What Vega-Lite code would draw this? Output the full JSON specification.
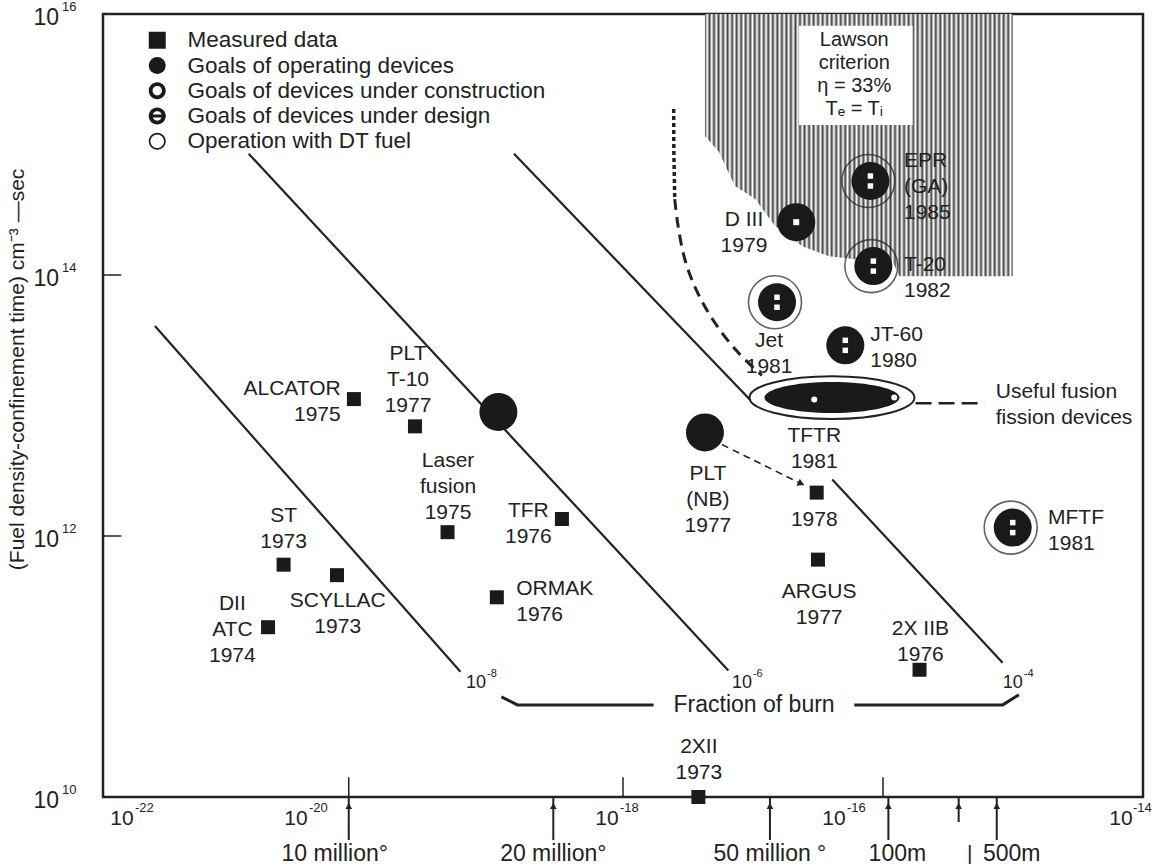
{
"$schema": "https://vega.github.io/schema/vega-lite/v6.json",
"width": 1040, "height": 783,
"autosize": {"type": "none"},
"padding": {"left": 103, "top": 14, "right": 13, "bottom": 71},
"background": "white",
"view": {"stroke": "#222", "strokeWidth": 2.5},
"config": {"text": {"font": "Liberation Sans", "color": "#222"}},
"datasets": {
"measured": [
 {"device":"ALCATOR","year":1975,"x":8.51e-21,"y":1.12e13},
 {"device":"PLT/T-10","year":1977,"x":2.51e-20,"y":6.92e12},
 {"device":"Laser fusion","year":1975,"x":4.47e-20,"y":1.07e12},
 {"device":"TFR","year":1976,"x":3.39e-19,"y":1.35e12},
 {"device":"ORMAK","year":1976,"x":1.07e-19,"y":3.39e11},
 {"device":"ST","year":1973,"x":2.45e-21,"y":6.03e11},
 {"device":"SCYLLAC","year":1973,"x":6.31e-21,"y":5.01e11},
 {"device":"DII ATC","year":1974,"x":1.86e-21,"y":2.0e11},
 {"device":"PLT (NB)","year":1978,"x":3.09e-17,"y":2.15e12},
 {"device":"ARGUS","year":1977,"x":3.16e-17,"y":6.59e11},
 {"device":"2X IIB","year":1976,"x":1.91e-16,"y":9.44e10},
 {"device":"2XII","year":1973,"x":3.80e-18,"y":1.0e10}
],
"goals": [
 {"device":"PLT","kind":"operating","x":1.10e-19,"y":8.91e12,"dt":false},
 {"device":"PLT (NB)","kind":"operating","x":4.27e-18,"y":6.22e12,"dt":false},
 {"device":"D III","kind":"operating","x":2.15e-17,"y":2.54e14,"dt":false},
 {"device":"EPR (GA)","kind":"design","x":8.0e-17,"y":5.25e14,"dt":true},
 {"device":"T-20","kind":"design","x":8.43e-17,"y":1.17e14,"dt":true},
 {"device":"Jet","kind":"design","x":1.53e-17,"y":6.18e13,"dt":true},
 {"device":"JT-60","kind":"design","x":5.13e-17,"y":2.89e13,"dt":false},
 {"device":"MFTF","kind":"design","x":9.95e-16,"y":1.16e12,"dt":true}
],
"lawson": [
 {"x":4.27e-18,"y":1.16e15},
 {"x":5.47e-18,"y":8.75e14},
 {"x":7.26e-18,"y":4.80e14},
 {"x":1.04e-17,"y":3.82e14},
 {"x":1.48e-17,"y":2.37e14},
 {"x":2.39e-17,"y":1.66e14},
 {"x":3.85e-17,"y":1.39e14},
 {"x":6.12e-17,"y":1.32e14},
 {"x":1.18e-16,"y":1.28e14},
 {"x":1.34e-16,"y":9.8e13},
 {"x":9.95e-16,"y":9.8e13}
],
"lawsonBox": [{"x":2.26e-17,"x2":1.69e-16,"y":8.11e15,"y2":1.41e15}],
"lawsonText": [{"t":["Lawson","criterion","η = 33%","Tₑ = Tᵢ"],"x":6.01e-17,"y":7.5e15}],
"burnLines": [
 {"x":2.51e-22,"y":4.07e13,"x2":5.62e-20,"y2":9.12e10},
 {"x":1.32e-21,"y":8.51e14,"x2":6.46e-18,"y2":9.33e10},
 {"x":1.45e-19,"y":8.51e14,"x2":9.82e-18,"y2":1.07e13},
 {"x":4.07e-17,"y":2.71e12,"x2":8.32e-16,"y2":1.07e11}
],
"curveDotted": [
 {"i":0,"x":2.455e-18,"y":1.87e15},
 {"i":1,"x":2.46e-18,"y":9.23e14},
 {"i":2,"x":2.50e-18,"y":3.82e14}
],
"curveDashed": [
 {"i":0,"x":2.50e-18,"y":3.82e14},
 {"i":1,"x":2.64e-18,"y":2.45e14},
 {"i":2,"x":2.99e-18,"y":1.32e14},
 {"i":3,"x":3.70e-18,"y":7.51e13},
 {"i":4,"x":5.00e-18,"y":4.42e13},
 {"i":5,"x":7.54e-18,"y":2.60e13},
 {"i":6,"x":1.17e-17,"y":1.70e13}
],
"bracket": [
 {"seg":"L","i":0,"x":1.16e-19,"y":5.85e10},
 {"seg":"L","i":1,"x":1.54e-19,"y":5.08e10},
 {"seg":"L","i":2,"x":1.72e-18,"y":5.08e10},
 {"seg":"R","i":0,"x":6.01e-17,"y":5.08e10},
 {"seg":"R","i":1,"x":8.34e-16,"y":5.08e10},
 {"seg":"R","i":2,"x":1.11e-15,"y":6.07e10}
],
"bracketText": [{"t":"Fraction of burn","x":1.02e-17,"y":5.08e10}],
"burnLabels": [
 {"x":7.41e-20,"y":7.5e10,"e":"-8"},
 {"x":8.22e-18,"y":7.5e10,"e":"-6"},
 {"x":9.95e-16,"y":7.5e10,"e":"-4"}
],
"tftr": [{"device":"TFTR","year":1981,"x":4.05e-17,"y":1.15e13}],
"tftrDots": [{"x":2.96e-17,"y":1.11e13},{"x":1.22e-16,"y":1.15e13}],
"nbArrow": [{"x":5.77e-18,"y":5.02e12,"x2":2.61e-17,"y2":2.39e12}],
"nbHead": [{"x":2.61e-17,"y":2.39e12}],
"usefulLine": [{"x":1.78e-16,"y":1.04e13,"x2":6.05e-16,"y2":1.04e13}],
"labelsC": [
 {"t":["PLT","T-10","1977"],"x":2.22e-20,"y":3.02e13},
 {"t":["Laser","fusion","1975"],"x":4.51e-20,"y":4.56e12},
 {"t":["ST","1973"],"x":2.45e-21,"y":1.73e12},
 {"t":["DII","ATC","1974"],"x":9.89e-22,"y":3.65e11},
 {"t":["SCYLLAC","1973"],"x":6.39e-21,"y":3.84e11},
 {"t":["TFR","1976"],"x":1.87e-19,"y":1.89e12},
 {"t":["PLT","(NB)","1977"],"x":4.50e-18,"y":3.63e12},
 {"t":["1978"],"x":2.96e-17,"y":1.61e12},
 {"t":["ARGUS","1977"],"x":3.23e-17,"y":4.51e11},
 {"t":["2X IIB","1976"],"x":1.94e-16,"y":2.34e11},
 {"t":["TFTR","1981"],"x":2.96e-17,"y":7.10e12},
 {"t":["Jet","1981"],"x":1.33e-17,"y":3.80e13},
 {"t":["2XII","1973"],"x":3.83e-18,"y":2.91e10},
 {"t":["D III","1979"],"x":8.52e-18,"y":3.23e14}
],
"labelsL": [
 {"t":["ORMAK","1976"],"x":1.51e-19,"y":4.75e11},
 {"t":["EPR","(GA)","1985"],"x":1.45e-16,"y":9.0e14},
 {"t":["T-20","1982"],"x":1.45e-16,"y":1.46e14},
 {"t":["JT-60","1980"],"x":7.99e-17,"y":4.23e13},
 {"t":["MFTF","1981"],"x":1.86e-15,"y":1.67e12},
 {"t":["Useful fusion","fission devices"],"x":7.37e-16,"y":1.55e13}
],
"labelsR": [{"t":["ALCATOR","1975"],"x":6.74e-21,"y":1.63e13}],
"yLabels": [{"y":1e10,"e":"10"},{"y":1e12,"e":"12"},{"y":1e14,"e":"14"},{"y":1e16,"e":"16"}],
"xLabels": [{"x":1e-22,"e":"-22"},{"x":1e-20,"e":"-20"},{"x":1e-18,"e":"-18"},{"x":1e-16,"e":"-16"},{"x":1e-14,"e":"-14"}],
"ticksX": [{"x":7.77e-21},{"x":1e-18},{"x":1e-16}],
"ticksY": [{"y":1e12},{"y":1e14}],
"temps": [
 {"x":7.77e-21,"t":"10 million°"},
 {"x":2.91e-19,"t":"20 million°"},
 {"x":1.35e-17,"t":"50 million °"},
 {"x":1.10e-16,"t":"100m"},
 {"x":7.50e-16,"t":"500m"}
],
"tempShort": [{"x":3.82e-16,"t":"|"}],
"yTitle": [{"t":"(Fuel density-confinement time) cm⁻³ —sec"}],
"kinds": [
 {"kind":"Measured data"},
 {"kind":"Goals of operating devices"},
 {"kind":"Goals of devices under construction"},
 {"kind":"Goals of devices under design"},
 {"kind":"Operation with DT fuel"}
]
},
"layer": [
{
"encoding": {
 "x": {"field":"x","type":"quantitative","scale":{"type":"log","domain":[1e-22,1e-14],"nice":false},"axis":null},
 "y": {"field":"y","type":"quantitative","scale":{"type":"log","domain":[1e10,1e16],"nice":false},"axis":null}
},
"layer": [
 {"data":{"name":"lawson"},
  "mark":{"type":"area","stroke":null,"fill":{"gradient":"linear","x1":0,"x2":1,"y1":0,"y2":0,"stops":[
{"offset":0,"color":"#444"},{"offset":0.0074,"color":"#fff"},{"offset":0.0147,"color":"#444"},{"offset":0.0221,"color":"#fff"},{"offset":0.0294,"color":"#444"},{"offset":0.0368,"color":"#fff"},{"offset":0.0441,"color":"#444"},{"offset":0.0515,"color":"#fff"},{"offset":0.0588,"color":"#444"},{"offset":0.0662,"color":"#fff"},{"offset":0.0735,"color":"#444"},{"offset":0.0809,"color":"#fff"},{"offset":0.0882,"color":"#444"},{"offset":0.0956,"color":"#fff"},{"offset":0.1029,"color":"#444"},{"offset":0.1103,"color":"#fff"},{"offset":0.1176,"color":"#444"},{"offset":0.125,"color":"#fff"},{"offset":0.1324,"color":"#444"},{"offset":0.1397,"color":"#fff"},{"offset":0.1471,"color":"#444"},{"offset":0.1544,"color":"#fff"},{"offset":0.1618,"color":"#444"},{"offset":0.1691,"color":"#fff"},{"offset":0.1765,"color":"#444"},{"offset":0.1838,"color":"#fff"},{"offset":0.1912,"color":"#444"},{"offset":0.1985,"color":"#fff"},{"offset":0.2059,"color":"#444"},{"offset":0.2132,"color":"#fff"},{"offset":0.2206,"color":"#444"},{"offset":0.2279,"color":"#fff"},{"offset":0.2353,"color":"#444"},{"offset":0.2426,"color":"#fff"},{"offset":0.25,"color":"#444"},{"offset":0.2574,"color":"#fff"},{"offset":0.2647,"color":"#444"},{"offset":0.2721,"color":"#fff"},{"offset":0.2794,"color":"#444"},{"offset":0.2868,"color":"#fff"},{"offset":0.2941,"color":"#444"},{"offset":0.3015,"color":"#fff"},{"offset":0.3088,"color":"#444"},{"offset":0.3162,"color":"#fff"},{"offset":0.3235,"color":"#444"},{"offset":0.3309,"color":"#fff"},{"offset":0.3382,"color":"#444"},{"offset":0.3456,"color":"#fff"},{"offset":0.3529,"color":"#444"},{"offset":0.3603,"color":"#fff"},{"offset":0.3676,"color":"#444"},{"offset":0.375,"color":"#fff"},{"offset":0.3824,"color":"#444"},{"offset":0.3897,"color":"#fff"},{"offset":0.3971,"color":"#444"},{"offset":0.4044,"color":"#fff"},{"offset":0.4118,"color":"#444"},{"offset":0.4191,"color":"#fff"},{"offset":0.4265,"color":"#444"},{"offset":0.4338,"color":"#fff"},{"offset":0.4412,"color":"#444"},{"offset":0.4485,"color":"#fff"},{"offset":0.4559,"color":"#444"},{"offset":0.4632,"color":"#fff"},{"offset":0.4706,"color":"#444"},{"offset":0.4779,"color":"#fff"},{"offset":0.4853,"color":"#444"},{"offset":0.4926,"color":"#fff"},{"offset":0.5,"color":"#444"},{"offset":0.5074,"color":"#fff"},{"offset":0.5147,"color":"#444"},{"offset":0.5221,"color":"#fff"},{"offset":0.5294,"color":"#444"},{"offset":0.5368,"color":"#fff"},{"offset":0.5441,"color":"#444"},{"offset":0.5515,"color":"#fff"},{"offset":0.5588,"color":"#444"},{"offset":0.5662,"color":"#fff"},{"offset":0.5735,"color":"#444"},{"offset":0.5809,"color":"#fff"},{"offset":0.5882,"color":"#444"},{"offset":0.5956,"color":"#fff"},{"offset":0.6029,"color":"#444"},{"offset":0.6103,"color":"#fff"},{"offset":0.6176,"color":"#444"},{"offset":0.625,"color":"#fff"},{"offset":0.6324,"color":"#444"},{"offset":0.6397,"color":"#fff"},{"offset":0.6471,"color":"#444"},{"offset":0.6544,"color":"#fff"},{"offset":0.6618,"color":"#444"},{"offset":0.6691,"color":"#fff"},{"offset":0.6765,"color":"#444"},{"offset":0.6838,"color":"#fff"},{"offset":0.6912,"color":"#444"},{"offset":0.6985,"color":"#fff"},{"offset":0.7059,"color":"#444"},{"offset":0.7132,"color":"#fff"},{"offset":0.7206,"color":"#444"},{"offset":0.7279,"color":"#fff"},{"offset":0.7353,"color":"#444"},{"offset":0.7426,"color":"#fff"},{"offset":0.75,"color":"#444"},{"offset":0.7574,"color":"#fff"},{"offset":0.7647,"color":"#444"},{"offset":0.7721,"color":"#fff"},{"offset":0.7794,"color":"#444"},{"offset":0.7868,"color":"#fff"},{"offset":0.7941,"color":"#444"},{"offset":0.8015,"color":"#fff"},{"offset":0.8088,"color":"#444"},{"offset":0.8162,"color":"#fff"},{"offset":0.8235,"color":"#444"},{"offset":0.8309,"color":"#fff"},{"offset":0.8382,"color":"#444"},{"offset":0.8456,"color":"#fff"},{"offset":0.8529,"color":"#444"},{"offset":0.8603,"color":"#fff"},{"offset":0.8676,"color":"#444"},{"offset":0.875,"color":"#fff"},{"offset":0.8824,"color":"#444"},{"offset":0.8897,"color":"#fff"},{"offset":0.8971,"color":"#444"},{"offset":0.9044,"color":"#fff"},{"offset":0.9118,"color":"#444"},{"offset":0.9191,"color":"#fff"},{"offset":0.9265,"color":"#444"},{"offset":0.9338,"color":"#fff"},{"offset":0.9412,"color":"#444"},{"offset":0.9485,"color":"#fff"},{"offset":0.9559,"color":"#444"},{"offset":0.9632,"color":"#fff"},{"offset":0.9706,"color":"#444"},{"offset":0.9779,"color":"#fff"},{"offset":0.9853,"color":"#444"},{"offset":0.9926,"color":"#fff"},{"offset":1,"color":"#444"}
  ]}},
  "encoding":{"y2":{"datum":1e16}}},
 {"data":{"name":"lawsonBox"},"mark":{"type":"rect","fill":"white","stroke":null},
  "encoding":{"x2":{"field":"x2"},"y2":{"field":"y2"}}},
 {"data":{"name":"lawsonText"},"mark":{"type":"text","align":"center","baseline":"top","fontSize":20,"lineHeight":23},
  "encoding":{"text":{"field":"t","type":"nominal"}}},
 {"data":{"name":"burnLines"},"mark":{"type":"rule","color":"#222","strokeWidth":2.2},
  "encoding":{"x2":{"field":"x2"},"y2":{"field":"y2"}}},
 {"data":{"name":"curveDotted"},"mark":{"type":"line","color":"#222","strokeWidth":3.5,"strokeDash":[4,3]},
  "encoding":{"order":{"field":"i","type":"quantitative"}}},
 {"data":{"name":"curveDashed"},"mark":{"type":"line","color":"#222","strokeWidth":3,"strokeDash":[11,7],"interpolate":"catmull-rom"},
  "encoding":{"order":{"field":"i","type":"quantitative"}}},
 {"data":{"name":"bracket"},"mark":{"type":"line","color":"#222","strokeWidth":3},
  "encoding":{"detail":{"field":"seg","type":"nominal"},"order":{"field":"i","type":"quantitative"}}},
 {"data":{"name":"bracketText"},"mark":{"type":"text","align":"center","baseline":"middle","fontSize":23},
  "encoding":{"text":{"field":"t","type":"nominal"}}},
 {"data":{"name":"burnLabels"},"mark":{"type":"text","align":"center","baseline":"middle","fontSize":18,"text":"10"}},
 {"data":{"name":"burnLabels"},"mark":{"type":"text","align":"left","baseline":"middle","fontSize":11,"dx":11,"dy":-9},
  "encoding":{"text":{"field":"e","type":"nominal"}}},
 {"data":{"name":"goals"},"transform":[{"filter":"datum.dt"}],
  "mark":{"type":"point","shape":"circle","filled":false,"stroke":"#222","strokeWidth":1.6,"size":2809,"xOffset":-2}},
 {"data":{"name":"goals"},"mark":{"type":"point","shape":"circle","filled":true,"color":"#1a1a1a","opacity":1,"size":1444}},
 {"data":{"name":"goals"},"transform":[{"filter":"datum.kind == 'design'"}],
  "mark":{"type":"point","shape":"square","filled":true,"color":"white","opacity":1,"size":30,"yOffset":-5}},
 {"data":{"name":"goals"},"transform":[{"filter":"datum.kind == 'design'"}],
  "mark":{"type":"point","shape":"square","filled":true,"color":"white","opacity":1,"size":30,"yOffset":5}},
 {"data":{"name":"goals"},"transform":[{"filter":"datum.device == 'D III'"}],
  "mark":{"type":"point","shape":"square","filled":true,"color":"white","opacity":1,"size":36}},
 {"data":{"name":"tftr"},"mark":{"type":"point","shape":"M-1,0A1,0.26,0,1,1,1,0A1,0.26,0,1,1,-1,0Z","filled":true,"fill":"white","stroke":"#222","strokeWidth":2,"opacity":1,"size":27225}},
 {"data":{"name":"tftr"},"mark":{"type":"point","shape":"M-1,0A1,0.23,0,1,1,1,0A1,0.23,0,1,1,-1,0Z","filled":true,"color":"#1a1a1a","opacity":1,"size":18225}},
 {"data":{"name":"tftrDots"},"mark":{"type":"point","shape":"circle","filled":true,"color":"white","opacity":1,"size":36}},
 {"data":{"name":"measured"},"mark":{"type":"point","shape":"square","filled":true,"color":"#1a1a1a","opacity":1,"size":196}},
 {"data":{"name":"nbArrow"},"mark":{"type":"rule","color":"#222","strokeWidth":1.6,"strokeDash":[7,5]},
  "encoding":{"x2":{"field":"x2"},"y2":{"field":"y2"}}},
 {"data":{"name":"nbHead"},"mark":{"type":"point","shape":"triangle-up","angle":116,"filled":true,"color":"#222","opacity":1,"size":60,"xOffset":-6,"yOffset":-3}},
 {"data":{"name":"usefulLine"},"mark":{"type":"rule","color":"#222","strokeWidth":2.5,"strokeDash":[16,7]},
  "encoding":{"x2":{"field":"x2"},"y2":{"field":"y2"}}},
 {"data":{"name":"labelsC"},"mark":{"type":"text","align":"center","baseline":"top","fontSize":21,"lineHeight":26},
  "encoding":{"text":{"field":"t","type":"nominal"}}},
 {"data":{"name":"labelsL"},"mark":{"type":"text","align":"left","baseline":"top","fontSize":21,"lineHeight":26},
  "encoding":{"text":{"field":"t","type":"nominal"}}},
 {"data":{"name":"labelsR"},"mark":{"type":"text","align":"right","baseline":"top","fontSize":21,"lineHeight":26},
  "encoding":{"text":{"field":"t","type":"nominal"}}}
]
},
 {"data":{"name":"yLabels"},"mark":{"type":"text","align":"right","baseline":"middle","fontSize":23,"dx":-44,"dy":4,"text":"10"},
  "encoding":{"x":{"datum":1e-22,"type":"quantitative","axis":null},"y":{"field":"y","type":"quantitative","axis":null}}},
 {"data":{"name":"yLabels"},"mark":{"type":"text","align":"left","baseline":"middle","fontSize":13,"dx":-41,"dy":-7},
  "encoding":{"x":{"datum":1e-22,"type":"quantitative","axis":null},"y":{"field":"y","type":"quantitative","axis":null},"text":{"field":"e","type":"nominal"}}},
 {"data":{"name":"xLabels"},"mark":{"type":"text","align":"center","baseline":"middle","fontSize":21,"dy":22,"text":"10",
   "dx":{"expr":"datum.x < 1e-21 ? 19 : datum.x < 1e-19 ? -67 : datum.x < 1e-17 ? -16 : datum.x < 1e-15 ? -49 : -22"}},
  "encoding":{"x":{"field":"x","type":"quantitative","axis":null},"y":{"datum":1e10,"type":"quantitative","axis":null}}},
 {"data":{"name":"xLabels"},"mark":{"type":"text","align":"left","baseline":"middle","fontSize":13,"dy":11,
   "dx":{"expr":"datum.x < 1e-21 ? 32 : datum.x < 1e-19 ? -54 : datum.x < 1e-17 ? -3 : datum.x < 1e-15 ? -36 : -10"}},
  "encoding":{"x":{"field":"x","type":"quantitative","axis":null},"y":{"datum":1e10,"type":"quantitative","axis":null},"text":{"field":"e","type":"nominal"}}},
 {"data":{"name":"ticksX"},"mark":{"type":"rule","color":"#222","strokeWidth":1.5},
  "encoding":{"x":{"field":"x","type":"quantitative","axis":null},"y":{"datum":1e10,"type":"quantitative","axis":null},"y2":{"datum":1.42e10}}},
 {"data":{"name":"ticksY"},"mark":{"type":"rule","color":"#222","strokeWidth":1.5},
  "encoding":{"y":{"field":"y","type":"quantitative","axis":null},"x":{"datum":1e-22,"type":"quantitative","axis":null},"x2":{"datum":1.38e-22}}},
 {"data":{"name":"temps"},"mark":{"type":"rule","color":"#222","strokeWidth":2},
  "encoding":{"x":{"field":"x","type":"quantitative","axis":null},"y":{"datum":1e10,"type":"quantitative","axis":null},"y2":{"datum":4.68e9}}},
 {"data":{"name":"tempShort"},"mark":{"type":"rule","color":"#222","strokeWidth":2},
  "encoding":{"x":{"field":"x","type":"quantitative","axis":null},"y":{"datum":1e10,"type":"quantitative","axis":null},"y2":{"datum":6.43e9}}},
 {"data":{"name":"temps"},"mark":{"type":"point","shape":"triangle-up","filled":true,"color":"#222","opacity":1,"size":45},
  "encoding":{"x":{"field":"x","type":"quantitative","axis":null},"y":{"datum":8.53e9,"type":"quantitative","axis":null}}},
 {"data":{"name":"tempShort"},"mark":{"type":"point","shape":"triangle-up","filled":true,"color":"#222","opacity":1,"size":45},
  "encoding":{"x":{"field":"x","type":"quantitative","axis":null},"y":{"datum":8.53e9,"type":"quantitative","axis":null}}},
 {"data":{"name":"temps"},"mark":{"type":"text","align":"center","baseline":"middle","fontSize":23,
   "dx":{"expr":"datum.x < 1e-20 ? -14 : datum.x > 5e-16 ? 15 : datum.x > 5e-17 ? 9 : 0"}},
  "encoding":{"x":{"field":"x","type":"quantitative","axis":null},"y":{"datum":3.66e9,"type":"quantitative","axis":null},"text":{"field":"t","type":"nominal"}}},
 {"data":{"name":"tempShort"},"mark":{"type":"text","align":"center","baseline":"middle","fontSize":21,"dx":11},
  "encoding":{"x":{"field":"x","type":"quantitative","axis":null},"y":{"datum":3.66e9,"type":"quantitative","axis":null},"text":{"field":"t","type":"nominal"}}},
 {"data":{"name":"yTitle"},"mark":{"type":"text","align":"center","baseline":"middle","fontSize":21,"angle":270},
  "encoding":{"x":{"datum":2.21e-23,"type":"quantitative","axis":null},"y":{"datum":1.89e13,"type":"quantitative","axis":null},"text":{"field":"t","type":"nominal"}}},
 {"data":{"name":"kinds"},"mark":{"type":"point","filled":true,"color":"#1a1a1a","opacity":0},
  "encoding":{"x":{"datum":1e-20,"type":"quantitative","axis":null},"y":{"datum":1e15,"type":"quantitative","axis":null},
   "shape":{"field":"kind","type":"nominal",
    "scale":{"domain":["Measured data","Goals of operating devices","Goals of devices under construction","Goals of devices under design","Operation with DT fuel"],
     "range":["square","circle",
      "M-1,0A1,1,0,1,1,1,0A1,1,0,1,1,-1,0ZM-0.55,0A0.55,0.55,0,1,0,0.55,0A0.55,0.55,0,1,0,-0.55,0Z",
      "M-1,0A1,1,0,1,1,1,0A1,1,0,1,1,-1,0ZM-0.55,0A0.55,0.55,0,1,0,0.55,0A0.55,0.55,0,1,0,-0.55,0ZM-0.6,-0.18L0.6,-0.18L0.6,0.18L-0.6,0.18Z",
      "M-1,0A1,1,0,1,1,1,0A1,1,0,1,1,-1,0ZM-0.8,0A0.8,0.8,0,1,0,0.8,0A0.8,0.8,0,1,0,-0.8,0Z"]},
    "legend":{"title":null,"orient":"none","legendX":43,"legendY":15,"padding":0,
     "labelFont":"Liberation Sans","labelFontSize":22.5,"labelColor":"#222","labelLimit":0,"labelOffset":19,
     "symbolSize":289,"symbolFillColor":"#1a1a1a","symbolStrokeWidth":0,"symbolOpacity":1,"rowPadding":2.25}}}}
]
}
